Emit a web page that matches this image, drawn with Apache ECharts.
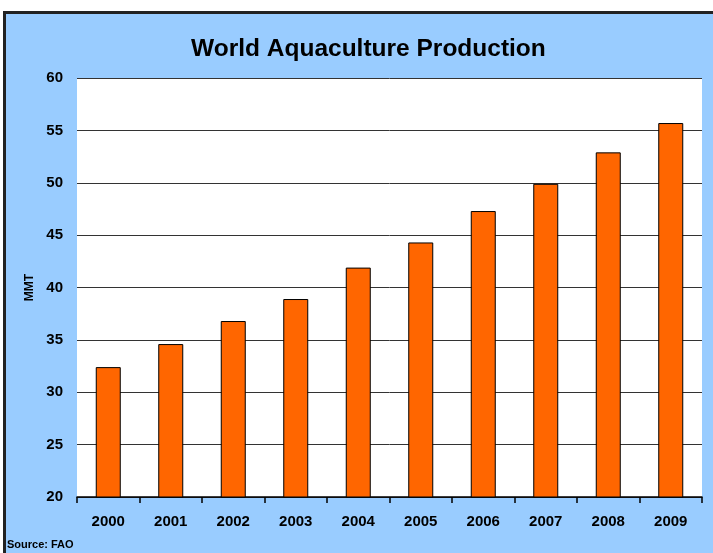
<!DOCTYPE html>
<html>
<head>
<meta charset="utf-8">
<script src="https://cdn.jsdelivr.net/npm/echarts@6/dist/echarts.min.js"></script>
<style>
  html, body { margin: 0; padding: 0; background: #fff; }
  #chart { width: 713px; height: 553px; }
</style>
</head>
<body>
<div id="chart"></div>
<script>
// values (million metric tonnes)
const years = ["2000", "2001", "2002", "2003", "2004", "2005", "2006", "2007", "2008", "2009"];
const production = [32.4, 34.6, 36.8, 38.9, 41.9, 44.3, 47.3, 49.9, 52.9, 55.7];

const font = "Arial, 'Liberation Sans', sans-serif";
const chart = echarts.init(document.getElementById("chart"));

chart.setOption({
  backgroundColor: "#FFFFFF",
  animation: false,
  graphic: [
    {
      type: "rect",
      z: -10,
      silent: true,
      shape: { x: 4.5, y: 12.5, width: 720, height: 560 },
      style: { fill: "#99CCFF", stroke: "#222222", lineWidth: 3 },
    },
    {
      type: "text",
      left: 7,
      top: 539,
      style: { text: "Source: FAO", font: "bold 11px " + font, fill: "#000" },
    },
  ],
  title: {
    text: "World Aquaculture Production",
    left: 186,
    top: 32,
    textStyle: { fontFamily: font, fontWeight: "bold", fontSize: 24.5, color: "#000" },
  },
  grid: {
    left: 77,
    right: 11,
    top: 78,
    bottom: 56,
    show: true,
    backgroundColor: "#FFFFFF",
    borderWidth: 0,
  },
  xAxis: {
    type: "category",
    data: years,
    boundaryGap: true,
    axisLine: { lineStyle: { color: "#000", width: 1.5 } },
    axisTick: { show: true, inside: false, length: 6, lineStyle: { color: "#000", width: 1.5 } },
    axisLabel: { margin: 17, color: "#000", fontFamily: font, fontWeight: "bold", fontSize: 15 },
  },
  yAxis: {
    type: "value",
    min: 20,
    max: 60,
    interval: 5,
    name: "MMT",
    nameLocation: "middle",
    nameRotate: 90,
    nameGap: 41,
    nameTextStyle: { color: "#000", fontFamily: font, fontWeight: "bold", fontSize: 12 },
    axisLine: { show: false },
    axisTick: { show: false },
    axisLabel: { margin: 14, color: "#000", fontFamily: font, fontWeight: "bold", fontSize: 15 },
    splitLine: { lineStyle: { color: "#333", width: 1 } },
  },
  series: [
    {
      type: "bar",
      data: production,
      barWidth: 25,
      itemStyle: { color: "#FF6600", borderColor: "#000", borderWidth: 1 },
    },
  ],
});
</script>
</body>
</html>
